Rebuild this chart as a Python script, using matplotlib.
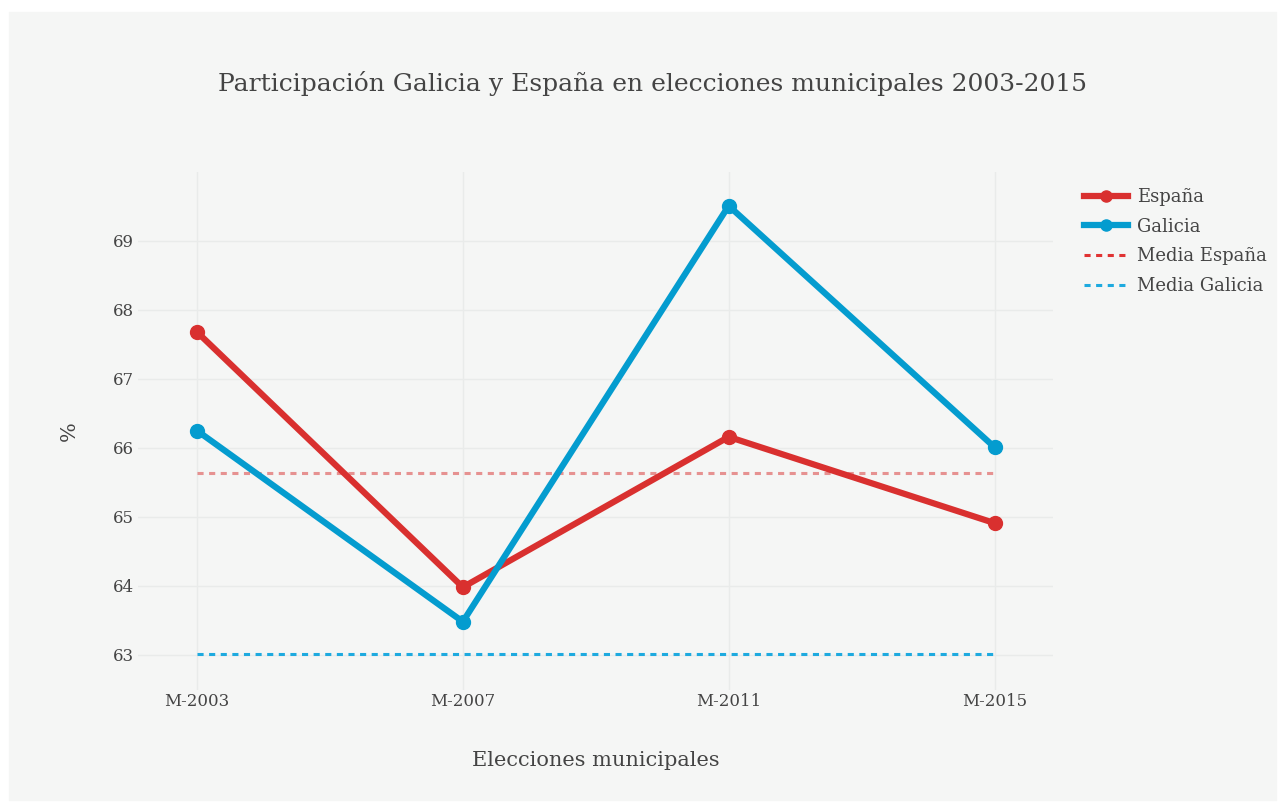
import matplotlib.pyplot as plt
from matplotlib.lines import Line2D

# Datos
elecciones = ['M-2003', 'M-2007', 'M-2011', 'M-2015']
espana = [67.68, 63.98, 66.16, 64.91]
galicia = [66.25, 63.48, 69.51, 66.01]
media_espana = [65.63, 65.63, 65.63, 65.63]
media_galicia = [63.01, 63.01, 63.01, 63.01]

rojo = '#d9302f'
azul = '#049ccf'
azul_media = '#1eaadf'
texto = '#444444'
fondo = '#f5f6f5'

plt.rcParams['font.family'] = ['DejaVu Serif']

fig = plt.figure(figsize=(12.81, 8.05), dpi=100)
fig.patch.set_facecolor('white')
# panel gris claro con borde blanco
fig.add_artist(plt.Rectangle((9 / 1281, 5 / 805), 1267 / 1281, 788 / 805,
                             transform=fig.transFigure, color=fondo, zorder=-10))

ax = fig.add_axes([138 / 1281, 1 - 690 / 805, 915 / 1281, 518 / 805])
ax.set_facecolor(fondo)
x = list(range(len(elecciones)))

ax.plot(x, media_espana, color=rojo, lw=2.2, ls=(0, (2, 1.8)), alpha=0.5, zorder=2)
ax.plot(x, media_galicia, color=azul_media, lw=2.2, ls=(0, (2, 1.8)), zorder=2)
ax.plot(x, espana, color=rojo, lw=4.5, marker='o', ms=10, zorder=3)
ax.plot(x, galicia, color=azul, lw=4.5, marker='o', ms=10, zorder=4)

ax.set_xlim(-0.222, 3.22)
ax.set_ylim(62.49, 70.0)
ax.set_xticks(x)
ax.set_xticklabels(elecciones)
ax.set_yticks([63, 64, 65, 66, 67, 68, 69])
ax.grid(True, color='#e9ebea', lw=1)
ax.set_axisbelow(True)
for s in ax.spines.values():
    s.set_visible(False)
ax.tick_params(length=0, labelsize=12, colors=texto)
ax.tick_params(axis='x', pad=2)
ax.tick_params(axis='y', pad=3)

ax.set_xlabel('Elecciones municipales', fontsize=15, color=texto, labelpad=30)
ax.set_ylabel('%', fontsize=15, color=texto, labelpad=24)

fig.text(652 / 1281, 1 - 83 / 805,
         'Participación Galicia y España en elecciones municipales 2003-2015',
         ha='center', va='center', fontsize=18, color=texto)

handles = [
    Line2D([], [], color=rojo, lw=4.5, marker='o', ms=8),
    Line2D([], [], color=azul, lw=4.5, marker='o', ms=8),
    Line2D([], [], color='#e03333', lw=2.2, ls=(0, (2, 1.8))),
    Line2D([], [], color=azul_media, lw=2.2, ls=(0, (2, 1.8))),
]
labels = ['España', 'Galicia', 'Media España', 'Media Galicia']
leg = fig.legend(handles, labels, loc='upper left',
                 bbox_to_anchor=(1068 / 1281, 1 - 172 / 805),
                 frameon=False, fontsize=13, handlelength=2.4,
                 labelspacing=0.64, handletextpad=0.5, labelcolor=texto)

fig.savefig('out.png', dpi=100, facecolor='white')
